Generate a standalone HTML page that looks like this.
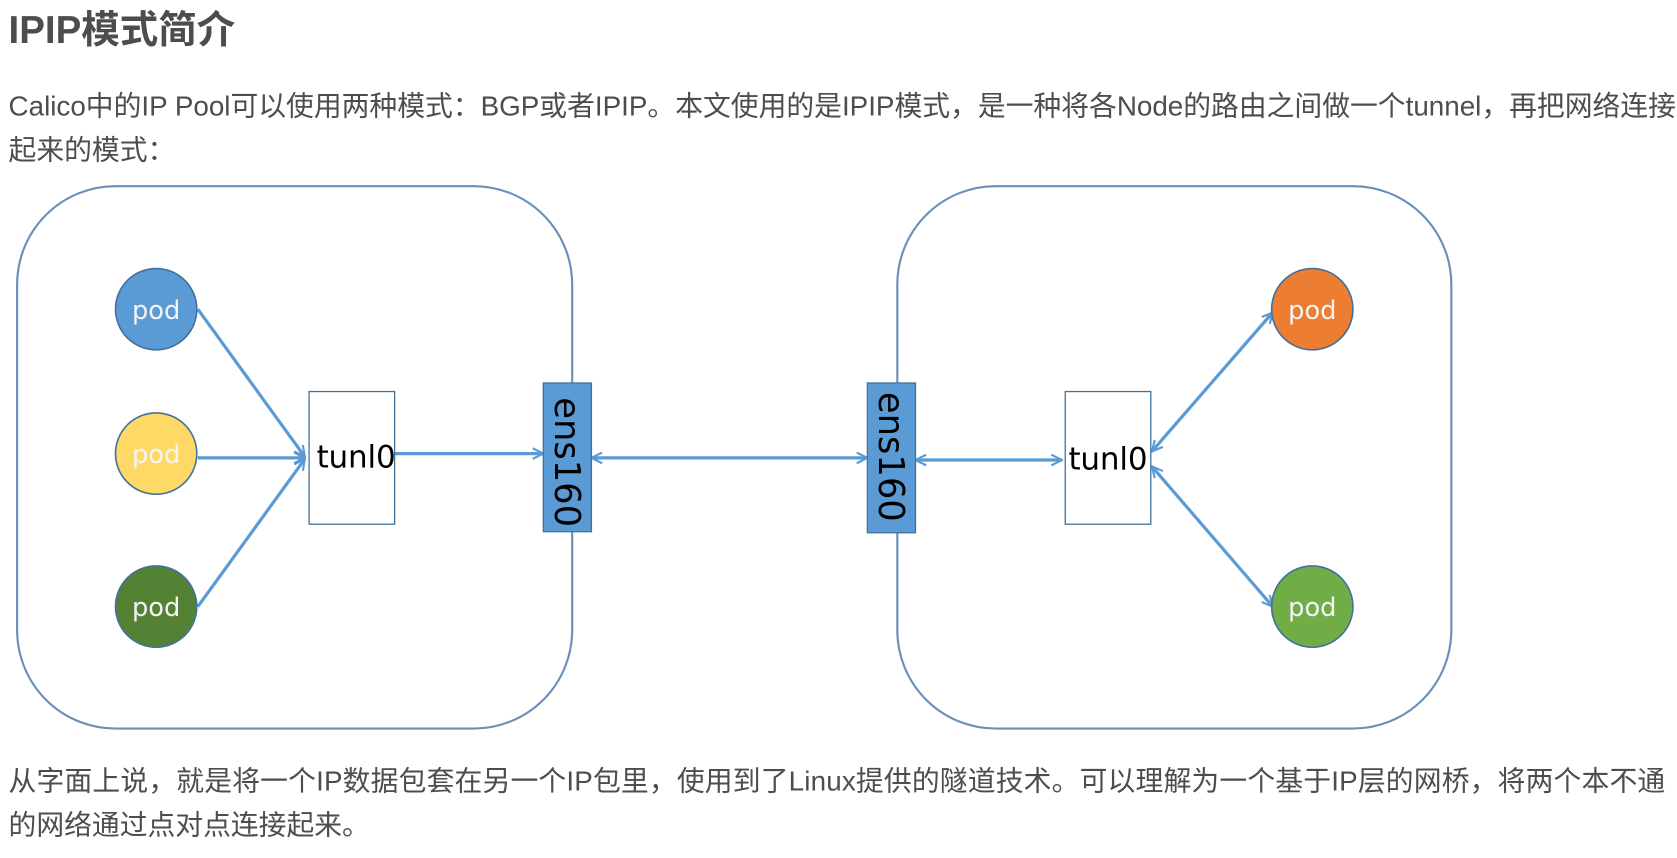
<!DOCTYPE html>
<html><head><meta charset="utf-8"><style>
html,body{margin:0;padding:0;background:#fff;width:1677px;height:858px;overflow:hidden}
svg{display:block}
.t{font-family:"Liberation Sans","Noto Sans CJK SC",sans-serif;fill:#4d4d4d}
.d{font-family:"DejaVu Sans","Liberation Sans",sans-serif}
</style></head><body>
<svg width="1677" height="858" viewBox="0 0 1568 802" preserveAspectRatio="none" xmlns="http://www.w3.org/2000/svg">
<defs>
<marker id="a" viewBox="0 0 12 12" refX="11" refY="6" markerWidth="12" markerHeight="12" markerUnits="userSpaceOnUse" orient="auto-start-reverse">
<path d="M1,1 L11,6 L1,11" fill="none" stroke="#5b9bd5" stroke-width="2"/>
</marker>
</defs>
<text class="t" x="8" y="40" font-size="36" font-weight="bold">IPIP模式简介</text>
<text class="t" x="8" y="108" font-size="26">Calico中的IP Pool可以使用两种模式：BGP或者IPIP。本文使用的是IPIP模式，是一种将各Node的路由之间做一个tunnel，再把网络连接</text>
<text class="t" x="8" y="149" font-size="26">起来的模式：</text>
<text class="t" x="8" y="739" font-size="26" textLength="1549">从字面上说，就是将一个IP数据包套在另一个IP包里，使用到了Linux提供的隧道技术。可以理解为一个基于IP层的网桥，将两个本不通</text>
<text class="t" x="8" y="780" font-size="26">的网络通过点对点连接起来。</text>

<rect x="16" y="174" width="519" height="507" rx="92" ry="92" fill="none" stroke="#6b8fb8" stroke-width="2"/>
<rect x="839" y="174" width="518" height="507" rx="92" ry="92" fill="none" stroke="#6b8fb8" stroke-width="2"/>

<g stroke="#5b9bd5" stroke-width="3" fill="none" marker-end="url(#a)">
<line x1="185" y1="289" x2="285" y2="427"/>
<line x1="185" y1="428" x2="285" y2="428"/>
<line x1="185" y1="567" x2="285" y2="429"/>
<line x1="369" y1="424" x2="508" y2="424"/>
<line x1="553" y1="428" x2="811" y2="428" marker-start="url(#a)"/>
<line x1="856" y1="430" x2="993" y2="430" marker-start="url(#a)"/>
<line x1="1077" y1="422" x2="1190" y2="292" marker-start="url(#a)"/>
<line x1="1077" y1="436" x2="1190" y2="567" marker-start="url(#a)"/>
</g>

<rect x="289" y="366" width="80" height="124" fill="#fff" stroke="#41719c" stroke-width="1.2"/>
<text class="d" x="296" y="437" font-size="29" fill="#000" textLength="74">tunl0</text>
<rect x="996" y="366" width="80" height="124" fill="#fff" stroke="#41719c" stroke-width="1.2"/>
<text class="d" x="999" y="439" font-size="29" fill="#000" textLength="74">tunl0</text>

<rect x="508" y="358" width="45" height="139" fill="#5b9bd5" stroke="#41719c" stroke-width="1.2"/>
<text class="d" transform="translate(519,432) rotate(90)" text-anchor="middle" font-size="33" fill="#000">ens160</text>
<rect x="811" y="358" width="45" height="140" fill="#5b9bd5" stroke="#41719c" stroke-width="1.2"/>
<text class="d" transform="translate(822,427) rotate(90)" text-anchor="middle" font-size="33" fill="#000">ens160</text>

<g stroke="#41719c" stroke-width="1.5">
<circle cx="146" cy="289" r="38" fill="#5b9bd5"/>
<circle cx="146" cy="424" r="38" fill="#ffd966"/>
<circle cx="146" cy="567" r="38" fill="#548235"/>
<circle cx="1227" cy="289" r="38" fill="#ed7d31"/>
<circle cx="1227" cy="567" r="38" fill="#70ad47"/>
</g>
<g class="d" font-size="24" fill="#f4f4f4" text-anchor="middle">
<text x="146" y="298">pod</text>
<text x="146" y="433">pod</text>
<text x="146" y="576">pod</text>
<text x="1227" y="298">pod</text>
<text x="1227" y="576">pod</text>
</g>
</svg>
</body></html>
